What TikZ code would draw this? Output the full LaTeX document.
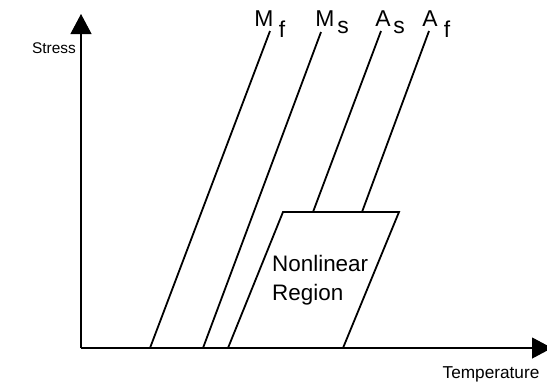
\documentclass[tikz,border=0pt]{standalone}
\usepackage{fontspec}
\setmainfont{Liberation Sans}
\usetikzlibrary{arrows.meta}
\begin{document}
\begin{tikzpicture}[x=1bp,y=-1bp,
  axisline/.style={line width=1.1bp,-{Triangle[length=20bp,width=21bp]}},
  tline/.style={line width=1.8bp},
  lbl/.style={inner sep=0pt,font=\fontsize{23}{25}\selectfont},
  txt/.style={inner sep=0pt,font=\fontsize{17.3}{20}\selectfont}]
\useasboundingbox (0,0) rectangle (547,389);
% axes
\coordinate (O) at (81,348);
\coordinate (Ytip) at (81,14);
\coordinate (Xtip) at (552,348);
\draw[axisline] (O) -- (Ytip);
\draw[axisline] (O) -- (Xtip);
% lines
\coordinate (mf0) at (150,348); \coordinate (mf1) at (270,31);
\coordinate (ms0) at (203,348); \coordinate (ms1) at (321,32);
\coordinate (as0) at (313,212); \coordinate (as1) at (381,31);
\coordinate (af0) at (362,212); \coordinate (af1) at (429,31);
\draw[tline] (mf0) -- (mf1);
\draw[tline] (ms0) -- (ms1);
\draw[tline] (as0) -- (as1);
\draw[tline] (af0) -- (af1);
% nonlinear region
\coordinate (p1) at (228,348); \coordinate (p2) at (283,212);
\coordinate (p3) at (399,212); \coordinate (p4) at (343,348);
\draw[tline,line join=miter] (p1) -- (p2) -- (p3) -- (p4);
\node[txt,align=left,anchor=west,font=\fontsize{22.5}{29}\selectfont] (nl) at (272,280) {Nonlinear\\Region};
% labels
\node[lbl] (Mf) at (264,19) {M};
\node[lbl] (Mfs) at (282,29) {f};
\node[lbl] (Ms) at (325,19) {M};
\node[lbl] (Mss) at (343,27) {s};
\node[lbl] (As) at (383,19) {A};
\node[lbl] (Ass) at (399,27) {s};
\node[lbl] (Af) at (430,19) {A};
\node[lbl] (Afs) at (447,29) {f};
\node[txt,font=\fontsize{15.5}{19}\selectfont] (stress) at (54,48) {Stress};
\node[txt] (temp) at (491,374) {Temperature};
\end{tikzpicture}
\end{document}
